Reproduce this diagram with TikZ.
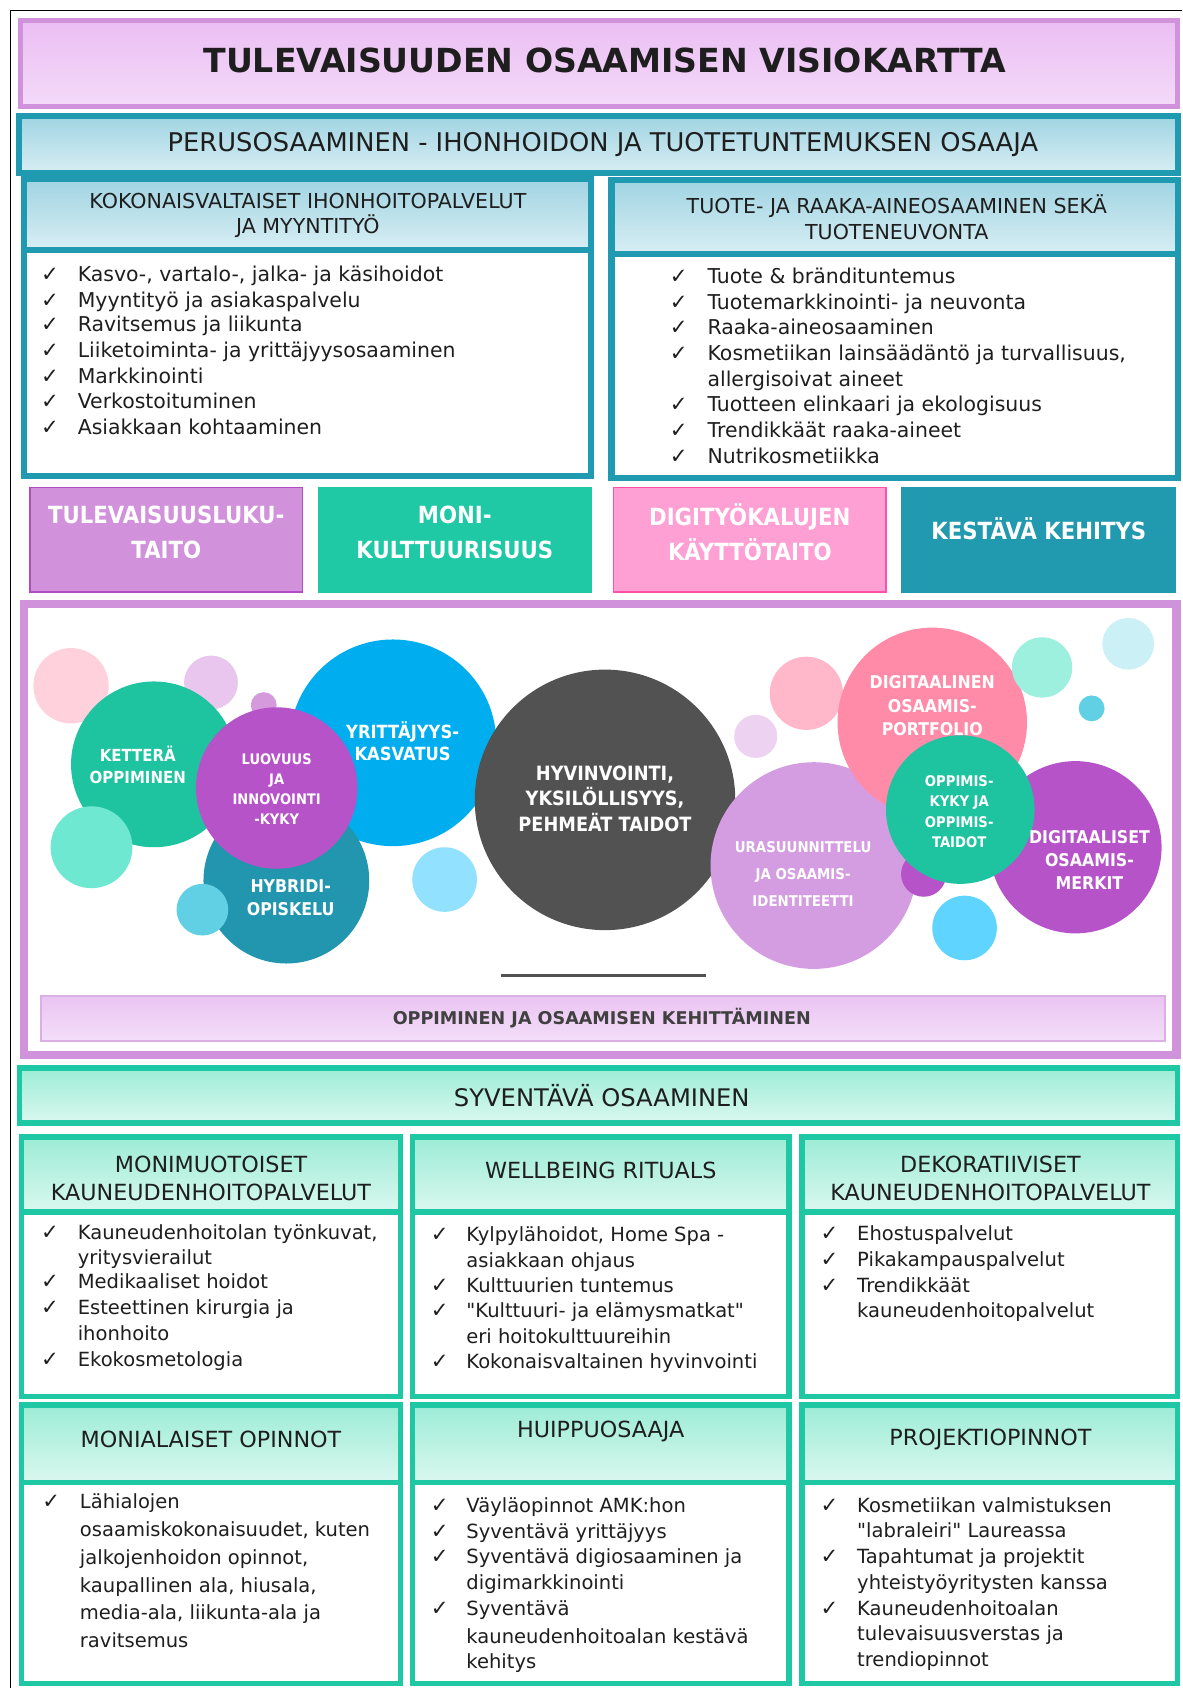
\documentclass[tikz,border=0pt]{standalone}
\usepackage{fontspec}
\setmainfont{DejaVu Sans}[Ligatures=TeXOff]
\newfontfamily\condfont{DejaVu Sans}[FakeStretch=0.9]
\usetikzlibrary{positioning}

\definecolor{tealline}{RGB}{32,154,176}
\definecolor{tealtop}{RGB}{160,212,226}
\definecolor{tealbot}{RGB}{216,238,244}
\definecolor{orchidline}{RGB}{208,146,218}
\definecolor{titletop}{RGB}{236,190,244}
\definecolor{titlebot}{RGB}{243,218,248}
\definecolor{mintline}{RGB}{30,200,164}
\definecolor{minttop}{RGB}{156,236,214}
\definecolor{mintbot}{RGB}{218,248,239}
\definecolor{lavtop}{RGB}{234,196,242}
\definecolor{lavbot}{RGB}{244,222,249}
\definecolor{lavline}{RGB}{220,175,228}
\definecolor{inktxt}{RGB}{30,30,30}
\definecolor{boxorchid}{RGB}{209,146,219}
\definecolor{boxorchidd}{RGB}{178,76,198}
\definecolor{boxgreen}{RGB}{31,201,165}
\definecolor{boxpink}{RGB}{255,160,212}
\definecolor{boxpinkd}{RGB}{255,80,170}
\definecolor{boxteal}{RGB}{33,153,174}
% bubble colours
\definecolor{bpinkl}{RGB}{255,209,220}
\definecolor{blavl}{RGB}{232,198,238}
\definecolor{borchs}{RGB}{213,154,219}
\definecolor{bgreen}{RGB}{30,195,160}
\definecolor{bmint}{RGB}{111,232,209}
\definecolor{bblue}{RGB}{0,174,239}
\definecolor{bteal}{RGB}{33,150,174}
\definecolor{bcyans}{RGB}{98,208,228}
\definecolor{bpurple}{RGB}{182,83,200}
\definecolor{blblue}{RGB}{146,225,255}
\definecolor{bgray}{RGB}{82,82,82}
\definecolor{bpinkm}{RGB}{255,183,201}
\definecolor{blavm}{RGB}{237,210,241}
\definecolor{blav}{RGB}{213,157,225}
\definecolor{bpink}{RGB}{255,139,168}
\definecolor{bbluem}{RGB}{94,212,255}
\definecolor{bmintl}{RGB}{156,240,221}
\definecolor{bcyanl}{RGB}{203,240,246}

\tikzset{
  tealbar/.style={draw=tealline, line width=4pt, top color=tealtop, bottom color=tealbot},
  tealbox/.style={draw=tealline, line width=4pt, fill=white},
  mintbar/.style={draw=mintline, line width=3.6pt, top color=minttop, bottom color=mintbot},
  mintbox/.style={draw=mintline, line width=3.6pt, fill=white},
  item/.style={anchor=west, inner sep=0pt, text height=9.5pt, text depth=2pt,
    text=inktxt, font=\fontsize{12.9}{15}\selectfont},
  topitem/.style={item, font=\fontsize{13.5}{16}\selectfont},
  tick/.style={item, font=\fontsize{14}{16}\selectfont},
  headtxt/.style={inner sep=0pt, align=center, text=inktxt},
  boxtxt/.style={inner sep=0pt, align=center, text=white,
    font=\condfont\bfseries\fontsize{15.6}{23.5}\selectfont},
  bubtxt/.style={inner sep=0pt, align=center, text=white,
    font=\condfont\bfseries\fontsize{11.6}{15.3}\selectfont},
}

\begin{document}
\begin{tikzpicture}[x=0.025cm, y=-0.025cm]
  \clip (0,0) rectangle (1098,1568);
  \fill[white] (0,0) rectangle (1098,1568);
  \draw[line width=0.6pt] (10,1580) -- (10,10) -- (1110,10);

  % title
  \draw[draw=orchidline, line width=3.6pt, top color=titletop, bottom color=titlebot]
    (19,19) rectangle (1094,99);
  \node[headtxt, font=\bfseries\fontsize{21.9}{26}\selectfont] (title) at (562,56)
    {TULEVAISUUDEN OSAAMISEN VISIOKARTTA};

  % perusosaaminen
  \draw[tealbar] (18,108) rectangle (1094,161);
  \node[headtxt, font=\fontsize{17}{20}\selectfont] (perus) at (560,134)
    {PERUSOSAAMINEN - IHONHOIDON JA TUOTETUNTEMUKSEN OSAAJA};
  \draw[tealbar] (22,166) rectangle (549,232);
  \draw[tealbox] (22,232) rectangle (549,442);
  \draw[tealbar] (568,167) rectangle (1094,236);
  \draw[tealbox] (568,236) rectangle (1094,444);
  \node[headtxt, font=\fontsize{13.6}{17}\selectfont] (kokon) at (286,200)
    {KOKONAISVALTAISET IHONHOITOPALVELUT\\JA MYYNTITYÖ};
  \node[headtxt, font=\fontsize{13.6}{17}\selectfont] (tuote) at (833,202)
    {TUOTE- JA RAAKA-AINEOSAAMINEN SEKÄ\\TUOTENEUVONTA};

  \foreach \y/\t in {256/{Kasvo-, vartalo-, jalka- ja käsihoidot}, 280/Myyntityö ja asiakaspalvelu,
      303/Ravitsemus ja liikunta, 327/Liiketoiminta- ja yrittäjyysosaaminen, 351/Markkinointi,
      374/Verkostoituminen, 398/Asiakkaan kohtaaminen}{
    \node[tick] (kc-\y) at (38,\y) {✓};
    \node[topitem] (kt-\y) at (72,\y) {\t};
  }
  \foreach \y/\t in {258/Tuote \& brändituntemus, 282/Tuotemarkkinointi- ja neuvonta,
      305/Raaka-aineosaaminen, 330/{Kosmetiikan lainsäädäntö ja turvallisuus,},
      354/allergisoivat aineet, 377/Tuotteen elinkaari ja ekologisuus,
      401/Trendikkäät raaka-aineet, 425/Nutrikosmetiikka}{
    \node[topitem] (tt-\y) at (657,\y) {\t};
  }
  \foreach \y in {258,282,305,330,377,401,425}
    \node[tick] (tc-\y) at (622,\y) {✓};

  % four skill boxes
  \draw[fill=boxorchid, draw=boxorchidd, line width=1pt] (28,453) rectangle (281,550);
  \draw[fill=boxgreen, draw=boxgreen, line width=1pt] (296,453) rectangle (549,550);
  \draw[fill=boxpink, draw=boxpinkd, line width=1pt] (570,453) rectangle (823,550);
  \draw[fill=boxteal, draw=boxteal, line width=1pt] (838,453) rectangle (1092,550);
  \node[boxtxt] (tulev) at (154.5,494.5) {TULEVAISUUSLUKU-\\TAITO};
  \node[boxtxt] (moni) at (422.5,494.5) {MONI-\\KULTTUURISUUS};
  \node[boxtxt] (digit) at (696.5,494.5) {DIGITYÖKALUJEN\\KÄYTTÖTAITO};
  \node[boxtxt] (kesta) at (965,491) {KESTÄVÄ KEHITYS};

  % bubble map
  \draw[orchidline, line width=5.5pt] (22,561) rectangle (1093,980);
  \foreach \cx/\cy/\r/\c in {66/637/35/bpinkl, 196/634/25/blavl, 245/655/12/borchs,
      143/710/77/bgreen, 85/787/38/bmint, 365/690/96/bblue, 266/818/77/bteal,
      188/845/24/bcyans, 257/732/75/bpurple, 413/817/30/blblue,
      562/743/121/bgray, 749/644/34/bpinkm, 702/684/20/blavm, 756/804/96/blav,
      858/812/21/bpurple, 866/671/88/bpink, 999/787/80/bpurple, 892/752/69/bgreen,
      896/862/30/bbluem, 968/620/28/bmintl, 1048/598/24/bcyanl, 1014/658/12/bcyans}
    \fill[\c] (\cx,\cy) circle[radius=\r];
  \node[bubtxt, font=\condfont\bfseries\fontsize{11}{15}\selectfont] (kett) at (128,710.5)
    {KETTERÄ\\OPPIMINEN};
  \node[bubtxt, font=\condfont\bfseries\fontsize{9.6}{13.3}\selectfont] (luov) at (257,733)
    {LUOVUUS\\JA\\INNOVOINTI\\-KYKY};
  \node[bubtxt, font=\condfont\bfseries\fontsize{12}{15}\selectfont] (yrit) at (374,688.5)
    {YRITTÄJYYS-\\KASVATUS};
  \node[bubtxt] (hybr) at (270,834) {HYBRIDI-\\OPISKELU};
  \node[bubtxt, font=\condfont\bfseries\fontsize{13}{17}\selectfont] (hyvin) at (562,742)
    {HYVINVOINTI,\\YKSILÖLLISYYS,\\PEHMEÄT TAIDOT};
  \node[bubtxt] (dport) at (866,655.5) {DIGITAALINEN\\OSAAMIS-\\PORTFOLIO};
  \node[bubtxt, font=\condfont\bfseries\fontsize{9.8}{18}\selectfont] (uras) at (746,812)
    {URASUUNNITTELU\\JA OSAAMIS-\\IDENTITEETTI};
  \node[bubtxt, font=\condfont\bfseries\fontsize{9.7}{13.3}\selectfont] (oppim) at (891,754)
    {OPPIMIS-\\KYKY JA\\OPPIMIS-\\TAIDOT};
  \node[bubtxt] (dmerk) at (1012,799) {DIGITAALISET\\OSAAMIS-\\MERKIT};
  \draw[bgray, line width=2.2pt] (465,906) -- (656,906);
  \draw[draw=lavline, line width=1pt, top color=lavtop, bottom color=lavbot]
    (38,925) rectangle (1082,967);
  \node[headtxt, font=\bfseries\fontsize{11.6}{13}\selectfont, text=inktxt!85] (oppi) at (559,946)
    {OPPIMINEN JA OSAAMISEN KEHITTÄMINEN};

  % syventava osaaminen
  \draw[mintbar] (18,992) rectangle (1094,1043);
  \node[headtxt, font=\fontsize{16}{19}\selectfont] (syv) at (559,1018) {SYVENTÄVÄ OSAAMINEN};
  \foreach \xa/\xb in {20/372, 383/733, 745/1094}{
    \draw[mintbar] (\xa,1056) rectangle (\xb,1126);
    \draw[mintbox] (\xa,1126) rectangle (\xb,1297);
    \draw[mintbar] (\xa,1305) rectangle (\xb,1377);
    \draw[mintbox] (\xa,1377) rectangle (\xb,1564);
  }
  \node[headtxt, font=\fontsize{14.7}{18.5}\selectfont] (monim) at (196,1095)
    {MONIMUOTOISET\\KAUNEUDENHOITOPALVELUT};
  \node[headtxt, font=\fontsize{14.7}{18.5}\selectfont] (wellb) at (558,1087) {WELLBEING RITUALS};
  \node[headtxt, font=\fontsize{14.7}{18.5}\selectfont] (dekor) at (920,1095)
    {DEKORATIIVISET\\KAUNEUDENHOITOPALVELUT};
  \node[headtxt, font=\fontsize{14.7}{18.5}\selectfont] (monial) at (196,1337) {MONIALAISET OPINNOT};
  \node[headtxt, font=\fontsize{14.7}{18.5}\selectfont] (huipp) at (558,1330) {HUIPPUOSAAJA};
  \node[headtxt, font=\fontsize{14.7}{18.5}\selectfont] (proj) at (920,1337) {PROJEKTIOPINNOT};

  \foreach \y/\t in {1146/{Kauneudenhoitolan työnkuvat,}, 1169/yritysvierailut,
      1192/Medikaaliset hoidot, 1216/Esteettinen kirurgia ja, 1240/ihonhoito, 1264/Ekokosmetologia}
    \node[item] (a-\y) at (72,\y) {\t};
  \foreach \y in {1146,1192,1216,1264}
    \node[tick] (ac-\y) at (38,\y) {✓};
  \foreach \y/\t in {1148/{Kylpylähoidot, Home Spa -}, 1172/asiakkaan ohjaus,
      1195/Kulttuurien tuntemus, 1219/"Kulttuuri- ja elämysmatkat", 1243/eri hoitokulttuureihin,
      1266/Kokonaisvaltainen hyvinvointi}
    \node[item] (b-\y) at (433,\y) {\t};
  \foreach \y in {1148,1195,1219,1266}
    \node[tick] (bc-\y) at (400,\y) {✓};
  \foreach \y/\t in {1147/Ehostuspalvelut, 1171/Pikakampauspalvelut, 1195/Trendikkäät,
      1219/kauneudenhoitopalvelut}
    \node[item] (c-\y) at (796,\y) {\t};
  \foreach \y in {1147,1171,1195}
    \node[tick] (cc-\y) at (762,\y) {✓};

  \foreach \y/\t in {1396/Lähialojen, 1422/{osaamiskokonaisuudet, kuten},
      1448/{jalkojenhoidon opinnot,}, 1474/{kaupallinen ala, hiusala,},
      1499/{media-ala, liikunta-ala ja}, 1525/ravitsemus}
    \node[item] (d-\y) at (74,\y) {\t};
  \node[tick] (dc-1396) at (39,1396) {✓};
  \foreach \y/\t in {1400/Väyläopinnot AMK:hon, 1424/Syventävä yrittäjyys,
      1447/Syventävä digiosaaminen ja, 1471/digimarkkinointi, 1495/Syventävä,
      1521/kauneudenhoitoalan kestävä, 1545/kehitys}
    \node[item] (e-\y) at (433,\y) {\t};
  \foreach \y in {1400,1424,1447,1495}
    \node[tick] (ec-\y) at (400,\y) {✓};
  \foreach \y/\t in {1400/Kosmetiikan valmistuksen, 1423/"labraleiri" Laureassa,
      1447/Tapahtumat ja projektit, 1471/yhteistyöyritysten kanssa, 1495/Kauneudenhoitoalan,
      1519/tulevaisuusverstas ja, 1543/trendiopinnot}
    \node[item] (f-\y) at (796,\y) {\t};
  \foreach \y in {1400,1447,1495}
    \node[tick] (fc-\y) at (762,\y) {✓};
\end{tikzpicture}
\end{document}
